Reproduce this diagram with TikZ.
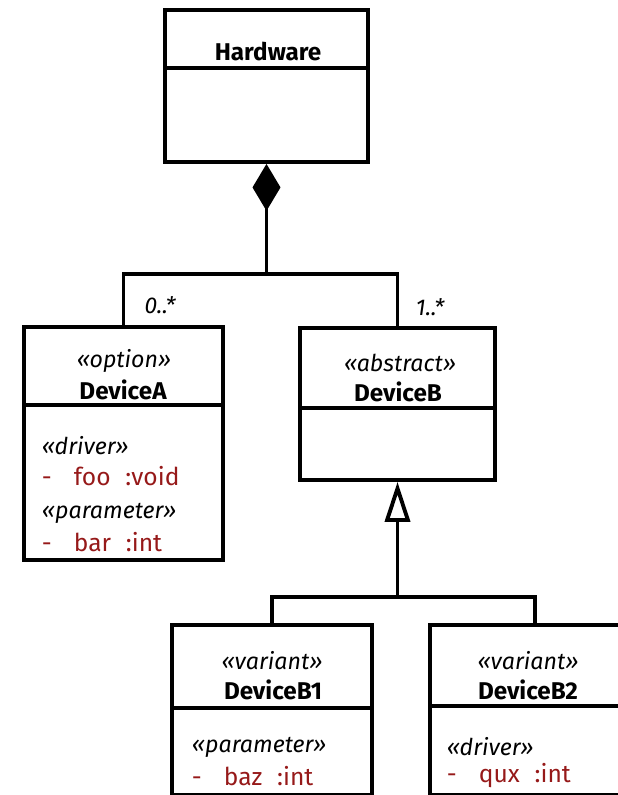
\documentclass[tikz,border=0pt]{standalone}
\usepackage{fontspec}
\setmainfont{Fira Sans}
\usepackage{xcolor}
\usepackage{tikz}
\usetikzlibrary{positioning,calc,arrows.meta}

\definecolor{attrred}{RGB}{150,25,25}

\begin{document}
\begin{tikzpicture}[x=0.02cm, y=-0.02cm, line width=2.2pt,
    classbox/.style={draw, inner sep=0pt},
    cname/.style={font=\fontsize{13.8}{16}\selectfont\bfseries},
    stereo/.style={font=\fontsize{13.2}{15}\selectfont\itshape},
    attr/.style={font=\fontsize{14}{16}\selectfont, text=attrred, anchor=west, inner sep=0pt},
    stereoleft/.style={stereo, anchor=west, inner sep=0pt},
    mult/.style={font=\fontsize{13}{15}\selectfont\itshape}]

    \clip (0,0) rectangle (618,795);

    % Hardware
    \node[classbox, minimum width=4.06cm, minimum height=3.04cm] (hw) at (266.5,86) {};
    \draw ($(hw.north west)+(0,60)$) -- ($(hw.north east)+(0,60)$);
    \node[cname] (hwname) at (268,52) {Hardware};

    % DeviceA
    \node[classbox, minimum width=3.98cm, minimum height=4.66cm] (devA) at (123.5,443.5) {};
    \draw ($(devA.north west)+(0,80)$) -- ($(devA.north east)+(0,80)$);
    \node[stereo] (devAst) at (124,361) {«option»};
    \node[cname] (devAname) at (123,390) {DeviceA};
    \node[stereoleft] (devAdrv) at (40,446) {«driver»};
    \node[attr] (devAfoo) at (40,476) {-\hspace{0.9em}foo\hspace{0.6em}:void};
    \node[stereoleft] (devApar) at (40,513) {«parameter»};
    \node[attr] (devAbar) at (40,542) {-\hspace{0.9em}bar\hspace{0.6em}:int};

    % DeviceB
    \node[classbox, minimum width=3.9cm, minimum height=3.04cm] (devB) at (397.5,404) {};
    \draw ($(devB.north west)+(0,82)$) -- ($(devB.north east)+(0,82)$);
    \node[stereo] (devBst) at (400,363) {«abstract»};
    \node[cname] (devBname) at (398,392) {DeviceB};

    % DeviceB1
    \node[classbox, minimum width=4cm, minimum height=3.4cm] (devB1) at (272,710) {};
    \draw ($(devB1.north west)+(0,85)$) -- ($(devB1.north east)+(0,85)$);
    \node[stereo] (devB1st) at (272,661) {«variant»};
    \node[cname] (devB1name) at (273,690) {DeviceB1};
    \node[stereoleft] (devB1par) at (190,747) {«parameter»};
    \node[attr] (devB1baz) at (190,776) {-\hspace{0.9em}baz\hspace{0.6em}:int};

    % DeviceB2
    \node[classbox, minimum width=4.2cm, minimum height=3.4cm] (devB2) at (535,710) {};
    \draw ($(devB2.north west)+(0,83)$) -- ($(devB2.north east)+(0,83)$);
    \node[stereo] (devB2st) at (528,661) {«variant»};
    \node[cname] (devB2name) at (528,690) {DeviceB2};
    \node[stereoleft] (devB2drv) at (445,747) {«driver»};
    \node[attr] (devB2qux) at (445,776) {-\hspace{0.9em}qux\hspace{0.6em}:int};

    % Composition
    \coordinate (jtop) at ($(hw.south)+(0,110)$);
    \draw[{Diamond[length=0.94cm,width=0.56cm]}-] (hw.south) -- (jtop);
    \draw (devA.north) |- (jtop) -| (devB.north);
    \node[mult] (multA) at (160,305) {0..*};
    \node[mult] (multB) at (430,307) {1..*};

    % Generalization
    \coordinate (jbot) at ($(devB.south)+(0,115)$);
    \draw[{Triangle[open,length=0.8cm,width=0.5cm]}-] (devB.south) -- (jbot);
    \draw (devB1.north) |- (jbot) -| (devB2.north);
\end{tikzpicture}
\end{document}
